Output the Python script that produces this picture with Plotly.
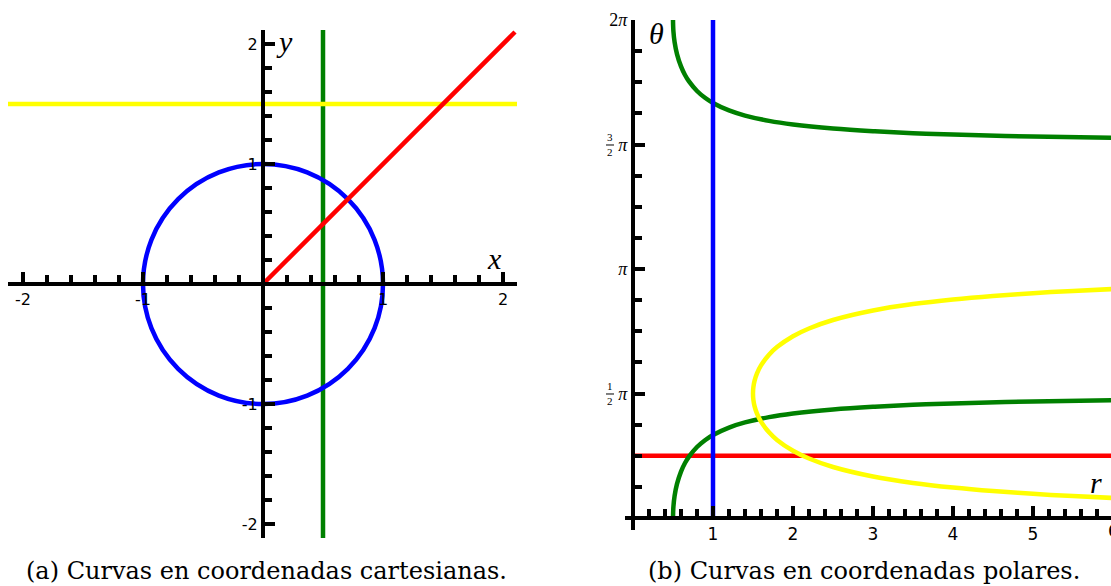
import plotly.graph_objects as go

W, H = 1111, 586

# ---------------- Cartesian curves ----------------
circle_radius = 1.0          # x^2 + y^2 = 1
vertical_x = 0.5             # x = 1/2
horizontal_y = 1.5           # y = 3/2
diag_x = [0.0, 2.1]          # y = x, x >= 0
diag_y = [0.0, 2.1]
cart_tickvals = [-2, -1, 1, 2]
cart_ticktext = ["-2", "-1", "1", "2"]

# ---------------- Polar curves (r, theta) ----------------
blue_r = [1.0, 1.0]                      # r = 1
blue_theta = [0.0, 6.2832]
red_r = [0.0, 6.0]                       # theta = pi/4
red_theta = [0.7854, 0.7854]

green_r = [0.5, 0.505, 0.52, 0.55, 0.6, 0.65, 0.7, 0.8, 0.9, 1.0, 1.2, 1.4,
           1.7, 2.0, 2.5, 3.0, 3.5, 4.0, 5.0, 6.0]
green_theta_low = [0.0, 0.1409, 0.2783, 0.4297, 0.5857, 0.6935, 0.7752, 0.8957,
                   0.9817, 1.0472, 1.1410, 1.2056, 1.2723, 1.3181, 1.3694,
                   1.4033, 1.4274, 1.4455, 1.4706, 1.4874]
green_theta_high = [6.2832, 6.1423, 6.0049, 5.8535, 5.6975, 5.5897, 5.5080,
                    5.3875, 5.3015, 5.2360, 5.1422, 5.0776, 5.0109, 4.9651,
                    4.9138, 4.8799, 4.8558, 4.8377, 4.8126, 4.7958]

yellow_r = [1.5, 1.505, 1.52, 1.55, 1.6, 1.7, 1.8, 2.0, 2.2, 2.5, 3.0, 3.5,
            4.0, 4.5, 5.0, 5.5, 6.0]
yellow_theta_low = [1.5708, 1.4893, 1.4084, 1.3161, 1.2154, 1.0808, 0.9851,
                    0.8481, 0.7502, 0.6435, 0.5236, 0.4429, 0.3844, 0.3398,
                    0.3047, 0.2762, 0.2527]
yellow_theta_high = [1.5708, 1.6523, 1.7332, 1.8255, 1.9262, 2.0608, 2.1565,
                     2.2935, 2.3914, 2.4981, 2.6180, 2.6987, 2.7572, 2.8018,
                     2.8369, 2.8654, 2.8889]

polar_r_ticks = [1, 2, 3, 4, 5]
theta_tickvals = [1.5708, 3.1416, 4.7124, 6.2832]
theta_ticktext = ["<i>π</i>", "<i>π</i>", "<i>π</i>", "2<i>π</i>"]
theta_fractions = [("1", "2"), None, ("3", "2"), None]

BLUE, RED, GREEN, YELLOW = "#0000ff", "#ff0000", "#008000", "#ffff00"
LW = 4.5

# pixel geometry of the two panels
L_X0, L_X1, L_Y0, L_Y1 = 8, 517, 30, 538          # cartesian plot box
R_X0, R_X1, R_Y0, R_Y1 = 625, 1111, 20, 530       # polar plot box
L_ORIGIN = (263, 284)
R_ORIGIN = (633, 518)


def px_x(p):
    return p / W


def px_y(p):
    return (H - p) / H


fig = go.Figure()

# left panel traces
fig.add_trace(go.Scatter(x=diag_x, y=diag_y, mode="lines",
                         line=dict(color=RED, width=LW), xaxis="x", yaxis="y"))

# right panel traces
fig.add_trace(go.Scatter(x=red_r, y=red_theta, mode="lines",
                         line=dict(color=RED, width=LW), xaxis="x2", yaxis="y2"))
fig.add_trace(go.Scatter(x=green_r, y=green_theta_low, mode="lines",
                         line=dict(color=GREEN, width=LW, shape="spline"),
                         xaxis="x2", yaxis="y2"))
fig.add_trace(go.Scatter(x=green_r, y=green_theta_high, mode="lines",
                         line=dict(color=GREEN, width=LW, shape="spline"),
                         xaxis="x2", yaxis="y2"))
fig.add_trace(go.Scatter(x=yellow_r[::-1] + yellow_r[1:],
                         y=yellow_theta_high[::-1] + yellow_theta_low[1:],
                         mode="lines",
                         line=dict(color=YELLOW, width=LW, shape="spline"),
                         xaxis="x2", yaxis="y2"))
fig.add_trace(go.Scatter(x=blue_r, y=blue_theta, mode="lines",
                         line=dict(color=BLUE, width=LW), xaxis="x2", yaxis="y2"))

shapes = [
    dict(type="circle", xref="x", yref="y",
         x0=-circle_radius, y0=-circle_radius, x1=circle_radius, y1=circle_radius,
         line=dict(color=BLUE, width=LW), layer="below"),
    dict(type="line", xref="x", yref="y domain", x0=vertical_x, x1=vertical_x,
         y0=0, y1=1, line=dict(color=GREEN, width=LW), layer="below"),
    dict(type="line", xref="x domain", yref="y", x0=0, x1=1,
         y0=horizontal_y, y1=horizontal_y, line=dict(color=YELLOW, width=LW),
         layer="below"),
]

tickfont = dict(family="DejaVu Sans", size=16, color="black")
minor = dict(tickmode="linear", tick0=0, ticks="inside",
             ticklen=7, tickwidth=4, tickcolor="black")
common = dict(showline=True, linewidth=4, linecolor="black", showgrid=False,
              zeroline=False, ticks="inside", tickwidth=4, tickcolor="black",
              ticklen=10, fixedrange=True, anchor="free", automargin=False)

fig.update_layout(
    width=W, height=H, margin=dict(l=0, r=0, t=0, b=0, pad=0, autoexpand=False),
    paper_bgcolor="white", plot_bgcolor="white", showlegend=False,
    xaxis=dict(domain=[px_x(L_X0), px_x(L_X1)],
               range=[(L_X0 - L_ORIGIN[0]) / 120, (L_X1 - L_ORIGIN[0]) / 120],
               position=px_y(L_ORIGIN[1]), tickmode="array", tickvals=cart_tickvals,
               ticktext=cart_ticktext, tickfont=tickfont,
               minor=dict(dtick=0.2, **minor), **common),
    yaxis=dict(domain=[px_y(L_Y1), px_y(L_Y0)],
               range=[(L_ORIGIN[1] - L_Y1) / 120, (L_ORIGIN[1] - L_Y0) / 120],
               position=px_x(L_ORIGIN[0]), tickmode="array", tickvals=cart_tickvals,
               ticktext=cart_ticktext, tickfont=tickfont, side="left",
               minor=dict(dtick=0.2, **minor), **common),
    xaxis2=dict(domain=[px_x(R_X0), px_x(R_X1)],
                range=[(R_X0 - R_ORIGIN[0]) / 80, (R_X1 - R_ORIGIN[0]) / 80],
                position=px_y(R_ORIGIN[1]), tickmode="array", tickvals=polar_r_ticks,
                tickfont=dict(family="DejaVu Sans", size=17, color="black"),
                minor=dict(dtick=0.2, **minor), **common),
    yaxis2=dict(domain=[px_y(R_Y1), px_y(R_Y0)],
                range=[-(R_Y1 - R_ORIGIN[1]) / 79.26, 6.2832],
                position=px_x(R_ORIGIN[0]), tickmode="array", tickvals=theta_tickvals,
                ticktext=theta_ticktext, side="left",
                tickfont=dict(family="Liberation Serif", size=18, color="black"),
                minor=dict(dtick=0.3927, **minor), **common),
    shapes=shapes,
)

label_font = dict(family="Liberation Serif", size=30, color="black", style="italic")
annotations = [
    dict(text="x", x=px_x(494), y=px_y(258), font=label_font),
    dict(text="y", x=px_x(284), y=px_y(42), font=label_font),
    dict(text="θ", x=px_x(656), y=px_y(34), font=label_font),
    dict(text="r", x=px_x(1096), y=px_y(482), font=label_font),
    dict(text="6", x=px_x(1113), y=px_y(531),
         font=dict(family="DejaVu Sans", size=17, color="black")),
    dict(text="(a) Curvas en coordenadas cartesianas.", x=px_x(266), y=px_y(571),
         font=dict(family="DejaVu Serif", size=24, color="black")),
    dict(text="(b) Curvas en coordenadas polares.", x=px_x(864), y=px_y(571),
         font=dict(family="DejaVu Serif", size=24, color="black")),
]

# stacked fractions in front of the pi labels
for val, frac in zip(theta_tickvals, theta_fractions):
    if frac is None:
        continue
    ypix = R_ORIGIN[1] - val * 79.26
    annotations.append(dict(text=frac[0], x=px_x(610), y=px_y(ypix - 7),
                            font=dict(family="Liberation Serif", size=11,
                                      color="black")))
    annotations.append(dict(text=frac[1], x=px_x(610), y=px_y(ypix + 8),
                            font=dict(family="Liberation Serif", size=11,
                                      color="black")))
    fig.add_shape(type="line", xref="paper", yref="paper",
                  x0=px_x(606), x1=px_x(614), y0=px_y(ypix + 0.5), y1=px_y(ypix + 0.5),
                  line=dict(color="black", width=1))

for a in annotations:
    a.update(xref="paper", yref="paper", showarrow=False,
             xanchor="center", yanchor="middle")
fig.update_layout(annotations=annotations)

fig.write_html("out.html")
